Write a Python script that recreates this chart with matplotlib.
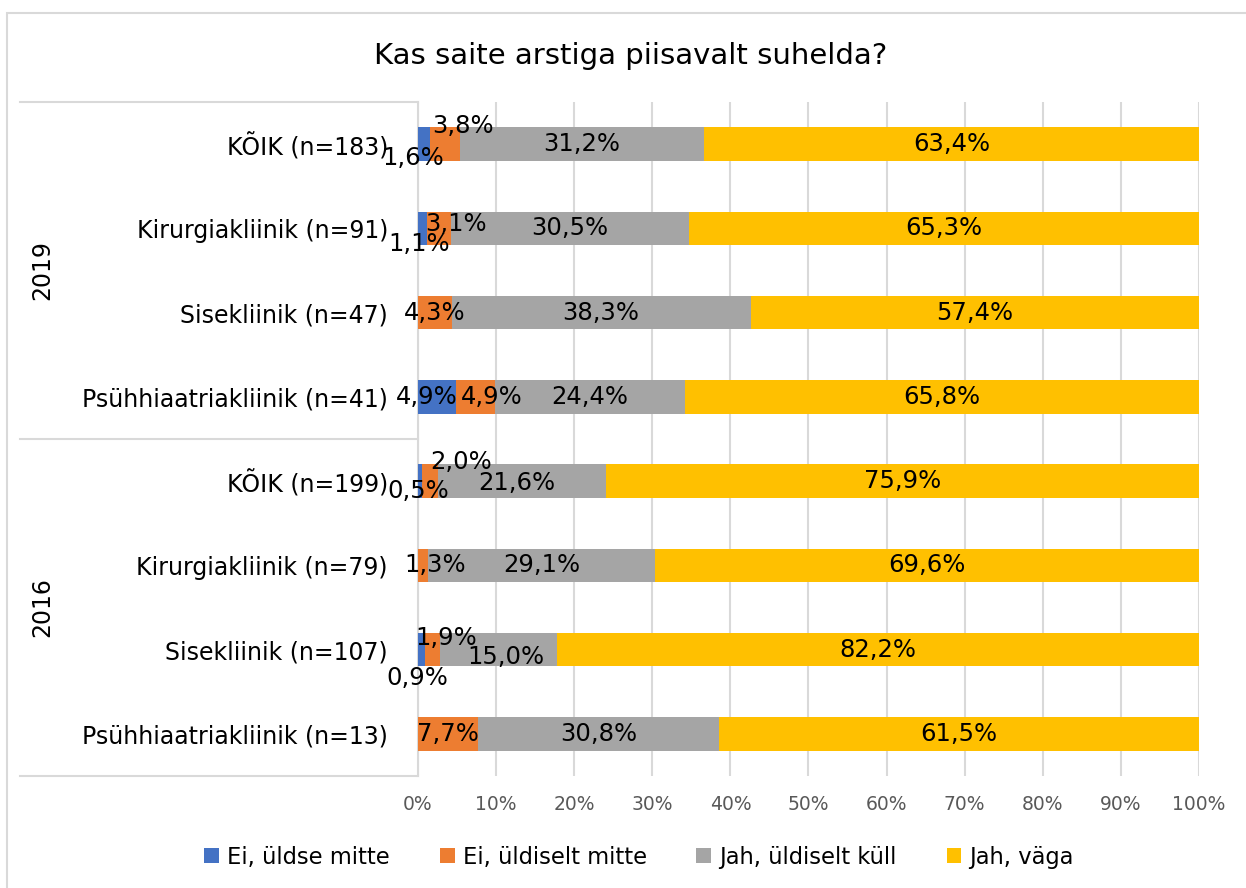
import matplotlib
matplotlib.use("Agg")
import matplotlib.pyplot as plt
from matplotlib.patches import Patch, Rectangle
from matplotlib.lines import Line2D
from matplotlib.transforms import blended_transform_factory

plt.rcParams['font.family'] = ['DejaVu Sans']

title = "Kas saite arstiga piisavalt suhelda?"
categories = ["KÕIK (n=183)", "Kirurgiakliinik (n=91)", "Sisekliinik (n=47)",
              "Psühhiaatriakliinik (n=41)", "KÕIK (n=199)", "Kirurgiakliinik (n=79)",
              "Sisekliinik (n=107)", "Psühhiaatriakliinik (n=13)"]
years = ["2019", "2016"]
series_names = ["Ei, üldse mitte", "Ei, üldiselt mitte", "Jah, üldiselt küll", "Jah, väga"]
ei_yldse = [1.6, 1.1, 0.0, 4.9, 0.5, 0.0, 0.9, 0.0]
ei_yldiselt = [3.8, 3.1, 4.3, 4.9, 2.0, 1.3, 1.9, 7.7]
jah_yldiselt = [31.2, 30.5, 38.3, 24.4, 21.6, 29.1, 15.0, 30.8]
jah_vaga = [63.4, 65.3, 57.4, 65.8, 75.9, 69.6, 82.2, 61.5]
xticks = [0, 10, 20, 30, 40, 50, 60, 70, 80, 90, 100]

colors = ["#4472C4", "#ED7D31", "#A5A5A5", "#FFC000"]
series = [ei_yldse, ei_yldiselt, jah_yldiselt, jah_vaga]

# label offsets in pixels (dx right, dy down) for crowded labels: (series, row)
offsets = {
    (0, 0): (-11, 14), (1, 0): (18, -18),
    (0, 1): (-3, 16), (1, 1): (17, -4),
    (0, 3): (-10, 0), (1, 3): (16, 0),
    (0, 4): (-2, 10), (1, 4): (31, -19), (2, 4): (-5, 2),
    (1, 5): (12, 0),
    (0, 6): (-4, 28), (1, 6): (14, -12), (2, 6): (7, 7),
}

W, H = 1246, 888
fig = plt.figure(figsize=(W / 100, H / 100), dpi=100)
ax = fig.add_axes([418 / W, 1 - 776 / H, (1199 - 418) / W, (776 - 102) / H])

ypos = list(range(len(categories)))
left = [0.0] * len(categories)
for si, (vals, col) in enumerate(zip(series, colors)):
    ax.barh(ypos, vals, left=left, height=0.40, color=col, label=series_names[si], zorder=3)
    for i, v in enumerate(vals):
        if v > 0:
            cx = left[i] + v / 2
            dx, dy = offsets.get((si, i), (0, 0))
            ax.annotate(f"{v:.1f}".replace('.', ',') + '%', (cx, i),
                        xytext=(dx * 0.72, -dy * 0.72), textcoords='offset points',
                        ha='center', va='center', fontsize=17.5, color='#000000', zorder=5)
    left = [l + v for l, v in zip(left, vals)]

ax.set_xlim(0, 100)
ax.set_ylim(len(categories) - 0.5, -0.5)
ax.set_xticks(xticks)
ax.set_xticklabels([f"{t}%" for t in xticks])
ax.set_yticks(ypos)
ax.set_yticklabels(categories, fontsize=17, color='#000000')
ax.tick_params(axis='x', length=0, pad=14, labelsize=13.5, labelcolor='#595959')
ax.tick_params(axis='y', length=0, pad=21.6)
ax.grid(axis='x', color='#D9D9D9', linewidth=1.5, zorder=0)
for s in ['top', 'right', 'bottom']:
    ax.spines[s].set_visible(False)
ax.spines['left'].set_color('#D9D9D9')
ax.spines['left'].set_linewidth(1.5)

# group separators and year labels
tr = blended_transform_factory(ax.transAxes, ax.transData)
x0 = (20 - 418) / (1199 - 418)
for yb in [-0.5, 3.5, 7.5]:
    ax.add_line(Line2D([x0, 0], [yb, yb], transform=tr, color='#D9D9D9', lw=1.5, clip_on=False))
xy = (42 - 418) / (1199 - 418)
for k, yr in enumerate(years):
    ax.text(xy, 1.5 + 4 * k, yr, transform=tr, rotation=90, ha='center', va='center', fontsize=17)

# chart border
fig.add_artist(Rectangle((7 / W, -0.1), 1.2, 1.1 - 13 / H, transform=fig.transFigure,
                         fill=False, edgecolor='#D9D9D9', lw=1.5))

fig.text(631 / W, 1 - 56 / H, title, ha='center', va='center', fontsize=21)

handles = [Patch(facecolor=c, edgecolor='none') for c in colors]
fig.legend(handles, series_names, loc='center', bbox_to_anchor=(639 / W, 1 - 857 / H), ncol=4,
           frameon=False, fontsize=16.3, handlelength=0.66, handleheight=0.66, handletextpad=0.35,
           columnspacing=2.2)

fig.savefig("out.png", dpi=100)
